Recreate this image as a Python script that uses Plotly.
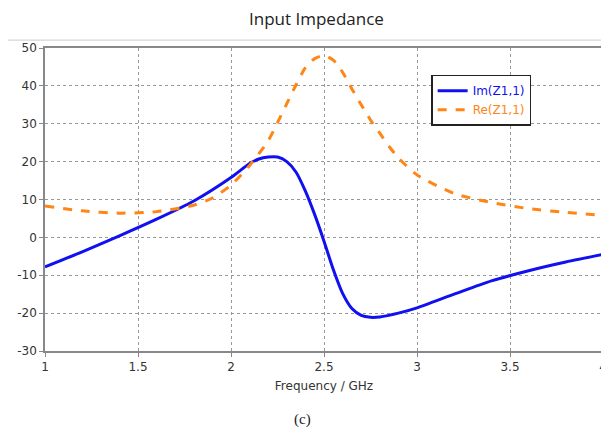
import plotly.graph_objects as go

freq_im = [1.0, 1.2, 1.4, 1.6, 1.8, 2.0, 2.1, 2.15, 2.2, 2.25, 2.3, 2.35, 2.4, 2.45, 2.5, 2.55, 2.6, 2.65, 2.7, 2.75, 2.8, 2.9, 3.0, 3.2, 3.4, 3.6, 3.8, 4.0]
im_z11 = [-7.8, -3.8, 0.4, 4.8, 9.6, 15.8, 19.5, 20.7, 21.2, 21.2, 20.0, 17.2, 12.2, 6.0, -1.0, -8.5, -14.8, -18.8, -20.6, -21.1, -21.0, -20.0, -18.6, -15.0, -11.5, -8.8, -6.5, -4.5]

freq_re = [1.0, 1.2, 1.4, 1.6, 1.8, 1.9, 2.0, 2.1, 2.2, 2.25, 2.3, 2.35, 2.4, 2.45, 2.5, 2.55, 2.6, 2.65, 2.7, 2.75, 2.8, 2.85, 2.9, 3.0, 3.2, 3.4, 3.6, 3.8, 4.0]
re_z11 = [8.3, 7.0, 6.4, 6.8, 8.5, 10.4, 13.8, 19.0, 25.5, 30.3, 35.3, 40.3, 44.8, 47.2, 48.0, 46.8, 43.6, 39.2, 35.0, 31.0, 27.5, 24.0, 21.0, 16.5, 11.6, 9.2, 7.6, 6.6, 5.8]

x_ticks = [1, 1.5, 2, 2.5, 3, 3.5, 4]
y_ticks = [-30, -20, -10, 0, 10, 20, 30, 40, 50]

BLUE = "#1010F0"
ORANGE = "#FF8514"
tick_font = dict(family="DejaVu Sans", size=12, color="#333333")

fig = go.Figure()
fig.add_trace(go.Scatter(
    x=freq_im, y=im_z11, mode="lines", line=dict(color=BLUE, width=3, shape="spline", smoothing=0.7),
    name=f"<span style='color:{BLUE}'>Im(Z1,1)</span>"))
fig.add_trace(go.Scatter(
    x=freq_re, y=re_z11, mode="lines", line=dict(color=ORANGE, width=3, dash="dash", shape="spline", smoothing=0.7),
    name=f"<span style='color:{ORANGE}'>Re(Z1,1)</span>"))

axis_common = dict(showline=True, linecolor="#888888", linewidth=1.5, mirror=True,
                   showgrid=True, gridcolor="#999999", griddash="dot", gridwidth=1,
                   ticks="outside", ticklen=4, tickcolor="#888888", tickfont=tick_font,
                   zeroline=False, automargin=False, ticklabeloverflow="allow")

fig.update_xaxes(range=[1, 4], tickvals=x_ticks, ticktext=[str(t) for t in x_ticks],
                 title=dict(text="Frequency / GHz", font=dict(family="DejaVu Sans", size=12, color="#333333"), standoff=8),
                 **axis_common)
fig.update_yaxes(range=[-30, 50], tickvals=y_ticks, ticktext=[str(t) for t in y_ticks],
                 **axis_common)

# page body has an 8px margin, so the figure is offset by 8px
fig.update_layout(
    width=601, height=427,
    margin=dict(l=37, r=6, t=40, b=84),
    paper_bgcolor="white", plot_bgcolor="white",
    showlegend=True,
    legend=dict(x=0.692, y=0.912, xanchor="left", yanchor="top",
                bgcolor="white", bordercolor="#222222", borderwidth=1.5,
                font=dict(family="DejaVu Sans", size=12), tracegroupgap=0, itemwidth=30),
    annotations=[
        dict(text="Input Impedance", xref="paper", yref="paper", x=0.487, y=1.0,
             yshift=16, xanchor="center", yanchor="bottom", showarrow=False,
             font=dict(family="Open Sans", size=17, color="#222222")),
        dict(text="(c)", xref="paper", yref="paper", x=0.462, y=0, yshift=-58,
             xanchor="center", yanchor="top", showarrow=False,
             font=dict(family="Liberation Serif", size=15, color="#222222")),
    ],
    shapes=[dict(type="line", xref="paper", yref="paper", x0=-0.07, x1=1.01,
                 y0=1.026, y1=1.026, line=dict(color="#cccccc", width=1))],
)

fig.write_html("out.html")
